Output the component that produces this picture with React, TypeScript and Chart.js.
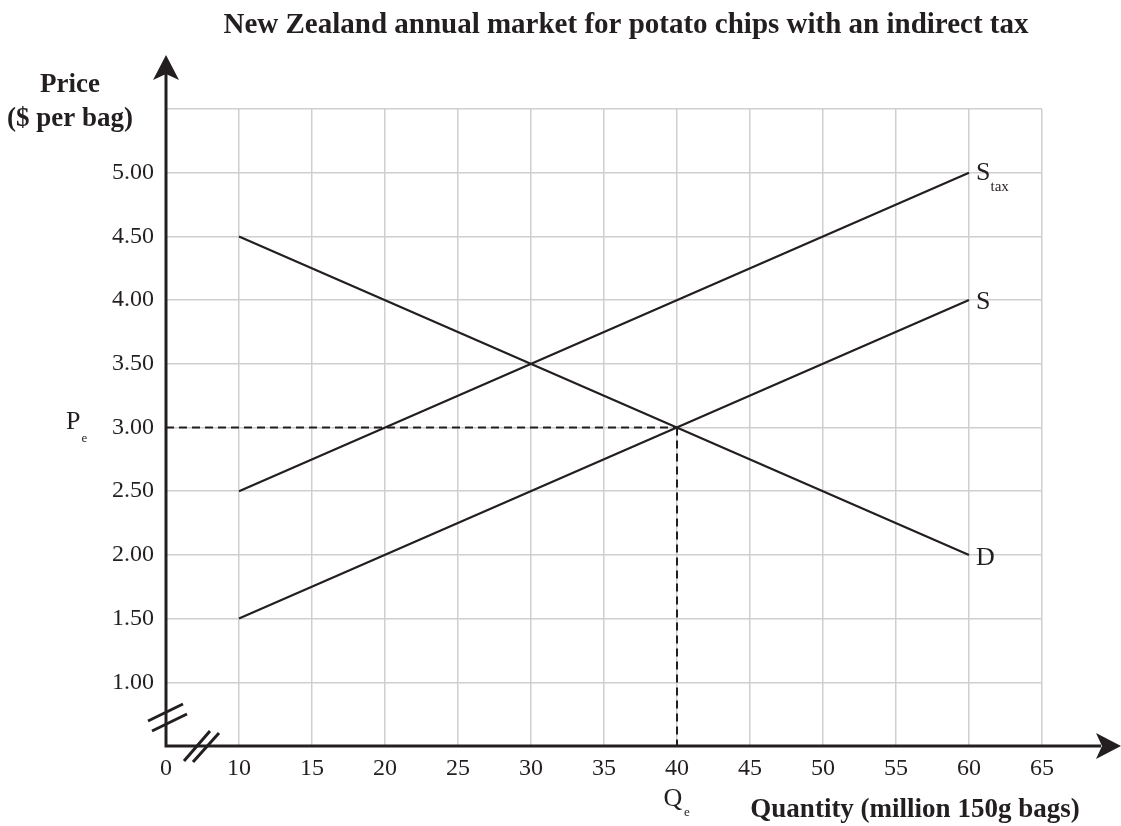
import React, { useEffect, useRef } from 'react';
import { Chart, registerables } from 'chart.js';

Chart.register(...registerables);

const TITLE = 'New Zealand annual market for potato chips with an indirect tax';
const X_TITLE = 'Quantity (million 150g bags)';
const Y_TITLE_1 = 'Price';
const Y_TITLE_2 = '($ per bag)';

const quantities = [10, 60];
const demand = [4.5, 2.0];
const supply = [1.5, 4.0];
const supplyTax = [2.5, 5.0];
const eqQuantity = 40;
const eqPrice = 3.0;

const xMin = 5;
const xMax = 65;
const xStep = 5;
const yMin = 0.5;
const yMax = 5.5;
const yStep = 0.5;

const INK = '#231f20';
const GRID = '#cfcfcf';
const FONT = '"Liberation Serif", "Times New Roman", serif';

const toPoints = (ys: number[]) => quantities.map((q, i) => ({ x: q, y: ys[i] }));

const overlay = {
  id: 'overlay',
  afterDraw(chart: any) {
    const { ctx, scales } = chart;
    const x = scales.x;
    const y = scales.y;
    const ox = x.getPixelForValue(xMin);
    const oy = y.getPixelForValue(yMin);
    const W = chart.width;
    ctx.save();
    ctx.strokeStyle = INK;
    ctx.fillStyle = INK;
    ctx.lineCap = 'butt';

    // axes
    ctx.lineWidth = 3;
    ctx.beginPath();
    ctx.moveTo(ox, oy + 1.5);
    ctx.lineTo(ox, 72);
    ctx.moveTo(ox - 1.5, oy);
    ctx.lineTo(W - 20, oy);
    ctx.stroke();

    // arrowheads
    ctx.beginPath();
    ctx.moveTo(ox, 55);
    ctx.lineTo(ox - 13, 80);
    ctx.lineTo(ox, 74);
    ctx.lineTo(ox + 13, 80);
    ctx.closePath();
    ctx.fill();

    ctx.beginPath();
    ctx.moveTo(W, oy);
    ctx.lineTo(W - 25, oy - 13);
    ctx.lineTo(W - 19, oy);
    ctx.lineTo(W - 25, oy + 13);
    ctx.closePath();
    ctx.fill();

    // axis breaks
    ctx.lineWidth = 3;
    ctx.beginPath();
    ctx.moveTo(ox - 18, oy - 25);
    ctx.lineTo(ox + 17, oy - 42);
    ctx.moveTo(ox - 14, oy - 15);
    ctx.lineTo(ox + 21, oy - 32);
    ctx.moveTo(ox + 18, oy + 15);
    ctx.lineTo(ox + 44, oy - 15);
    ctx.moveTo(ox + 27, oy + 16);
    ctx.lineTo(ox + 53, oy - 13);
    ctx.stroke();

    // curve labels
    const endQ = quantities[quantities.length - 1];
    const lx = x.getPixelForValue(endQ) + 7;
    ctx.textBaseline = 'middle';
    ctx.textAlign = 'left';
    ctx.font = `26px ${FONT}`;
    const yTax = y.getPixelForValue(supplyTax[supplyTax.length - 1]);
    ctx.fillText('S', lx, yTax);
    const sw = ctx.measureText('S').width;
    ctx.font = `15px ${FONT}`;
    ctx.fillText('tax', lx + sw, yTax + 14);
    ctx.font = `26px ${FONT}`;
    ctx.fillText('S', lx, y.getPixelForValue(supply[supply.length - 1]) + 2);
    ctx.fillText('D', lx, y.getPixelForValue(demand[demand.length - 1]) + 3);

    // P_e and Q_e
    const py = y.getPixelForValue(eqPrice);
    ctx.textAlign = 'left';
    ctx.fillText('P', 66, py - 5);
    const pw = ctx.measureText('P').width;
    ctx.font = `13px ${FONT}`;
    ctx.fillText('e', 66 + pw + 1, py + 11);
    const qx = x.getPixelForValue(eqQuantity);
    ctx.font = `26px ${FONT}`;
    ctx.textAlign = 'center';
    ctx.fillText('Q', qx - 4, oy + 53);
    ctx.font = `13px ${FONT}`;
    ctx.textAlign = 'left';
    ctx.fillText('e', qx + 7, oy + 67);

    // titles
    ctx.textBaseline = 'alphabetic';
    ctx.textAlign = 'center';
    ctx.font = `bold 29px ${FONT}`;
    ctx.fillText(TITLE, 626, 33);
    ctx.font = `bold 27px ${FONT}`;
    ctx.fillText(Y_TITLE_1, 70, 92);
    ctx.fillText(Y_TITLE_2, 70, 126);
    ctx.fillText(X_TITLE, 915, 817);
    ctx.restore();
  },
};

export default function App() {
  const ref = useRef<HTMLCanvasElement | null>(null);
  useEffect(() => {
    if (!ref.current) return;
    const lineDs = (label: string, ys: number[]) => ({
      label,
      data: toPoints(ys),
      showLine: true,
      borderColor: INK,
      borderWidth: 2.2,
      pointRadius: 0,
      fill: false,
    });
    const chart = new Chart(ref.current, {
      type: 'scatter',
      data: {
        datasets: [
          lineDs('D', demand),
          lineDs('S', supply),
          lineDs('Stax', supplyTax),
          {
            label: 'Pe',
            data: [
              { x: xMin, y: eqPrice },
              { x: eqQuantity, y: eqPrice },
            ],
            showLine: true,
            borderColor: INK,
            borderWidth: 2,
            borderDash: [8, 5],
            pointRadius: 0,
          },
          {
            label: 'Qe',
            data: [
              { x: eqQuantity, y: eqPrice },
              { x: eqQuantity, y: yMin },
            ],
            showLine: true,
            borderColor: INK,
            borderWidth: 2,
            borderDash: [8, 5],
            pointRadius: 0,
          },
        ],
      },
      options: {
        animation: false,
        responsive: true,
        maintainAspectRatio: false,
        layout: { padding: { left: 0, top: 109, right: 79, bottom: 0 } },
        plugins: { legend: { display: false }, title: { display: false }, tooltip: { enabled: false } },
        scales: {
          x: {
            type: 'linear',
            min: xMin,
            max: xMax,
            border: { display: false },
            grid: {
              drawTicks: false,
              lineWidth: 1.5,
              color: (c: any) => (c.tick && c.tick.value === xMin ? 'rgba(0,0,0,0)' : GRID),
            },
            ticks: {
              stepSize: xStep,
              padding: 8,
              color: INK,
              maxRotation: 0,
              autoSkip: false,
              font: { family: FONT, size: 24 },
              callback: (v: any) => (Number(v) === xMin ? '0' : String(v)),
            },
            afterFit: (s: any) => {
              s.height = 80;
            },
          },
          y: {
            type: 'linear',
            min: yMin,
            max: yMax,
            border: { display: false },
            grid: {
              drawTicks: false,
              lineWidth: 1.5,
              color: (c: any) => (c.tick && c.tick.value === yMin ? 'rgba(0,0,0,0)' : GRID),
            },
            ticks: {
              stepSize: yStep,
              padding: 12,
              color: INK,
              autoSkip: false,
              font: { family: FONT, size: 24 },
              callback: (v: any) => {
                const n = Number(v);
                return n === yMin || n === yMax ? '' : n.toFixed(2);
              },
            },
            afterFit: (s: any) => {
              s.width = 166;
            },
          },
        },
      },
      plugins: [overlay],
    });
    return () => chart.destroy();
  }, []);
  return (
    <div style={{ position: 'absolute', left: 0, top: 0, width: 1121, height: 826, background: '#fff' }}>
      <canvas ref={ref} style={{ display: 'block' }} />
    </div>
  );
}
